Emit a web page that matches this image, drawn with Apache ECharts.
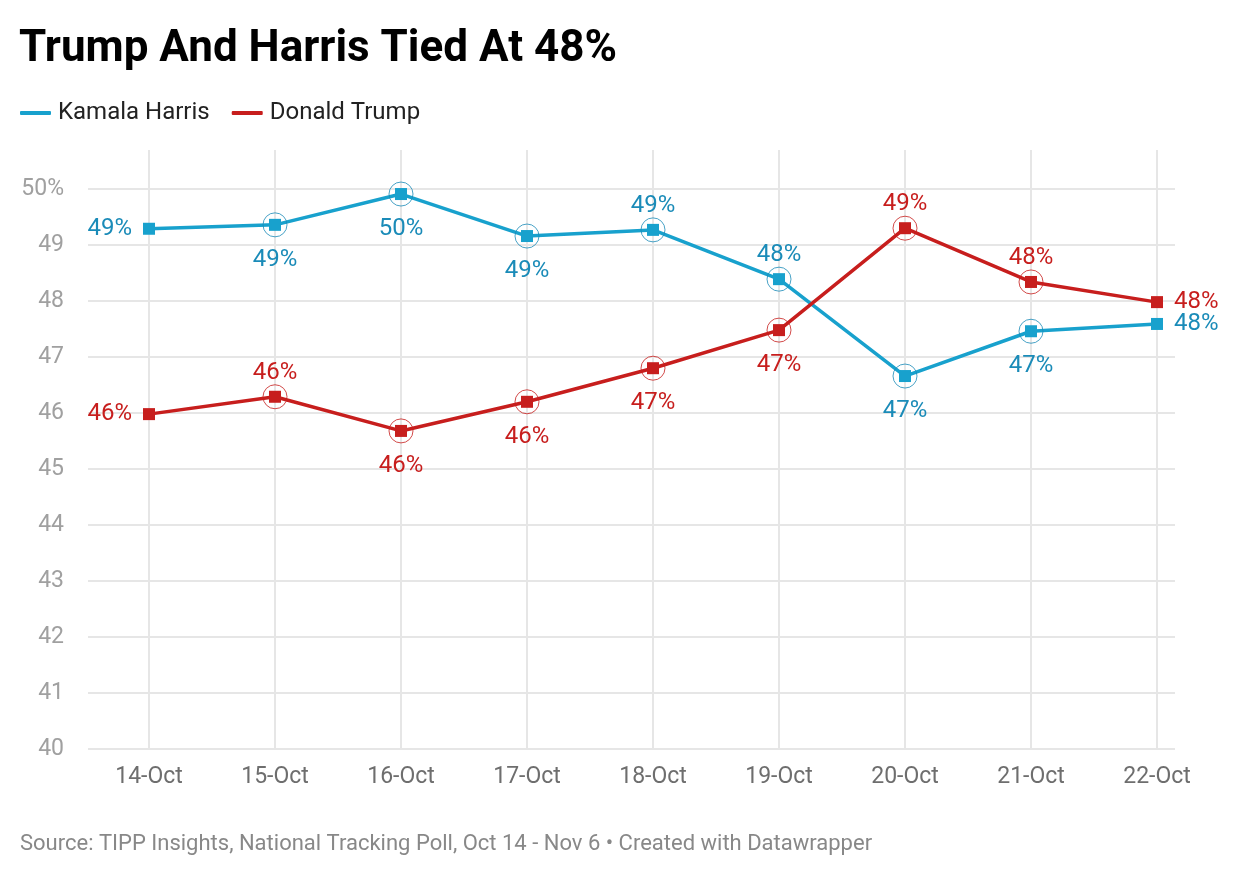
<!DOCTYPE html>
<html>
<head>
<meta charset="utf-8">
<script src="https://cdn.jsdelivr.net/npm/echarts@6/dist/echarts.min.js"></script>
<style>
html,body{margin:0;padding:0;background:#fff;}
#chart{width:1240px;height:876px;}
</style>
</head>
<body>
<div id="chart"></div>
<script>
const categories = ['14-Oct','15-Oct','16-Oct','17-Oct','18-Oct','19-Oct','20-Oct','21-Oct','22-Oct'];
const harris = [49.29, 49.36, 49.91, 49.16, 49.27, 48.39, 46.66, 47.46, 47.59];
const trump  = [45.98, 46.29, 45.68, 46.20, 46.80, 47.48, 49.30, 48.34, 47.98];
const harrisLabelPos = ['left','bottom','bottom','bottom','top','top','bottom','bottom','right'];
const trumpLabelPos  = ['left','top','bottom','bottom','bottom','bottom','top','top','right'];
const yMin = 40, yMax = 50, yStep = 1;

const BLUE = '#18a1cd', BLUE_TXT = '#1a8bb8', RED = '#c71e1d';
const FONT = 'Roboto, "Noto Sans", sans-serif';

function labelled(values, positions) {
  return values.map((v, i) => ({
    value: v,
    label: {
      position: positions[i],
      distance: positions[i] === 'top' ? 6 : positions[i] === 'bottom' ? 17 : 11
    }
  }));
}
function ringData(values) {
  return values.map((v, i) => (i === 0 || i === values.length - 1) ? '-' : v);
}

const chart = echarts.init(document.getElementById('chart'), null, {renderer: 'canvas'});
// grid 1 extends above the top gridline so that vertical lines reach higher
const topExtra = 39 / 56;

chart.setOption({
  backgroundColor: '#fff',
  animation: false,
  textStyle: {fontFamily: FONT},
  title: {
    text: 'Trump And Harris Tied At 48%',
    left: 19, top: 28, padding: 0,
    textStyle: {fontFamily: FONT, fontWeight: 'bold', fontSize: 44, color: '#000'}
  },
  legend: {
    left: 20, top: 101, padding: 0,
    data: ['Kamala Harris', 'Donald Trump'],
    icon: 'roundRect',
    itemWidth: 31, itemHeight: 4, itemGap: 22,
    textStyle: {fontFamily: FONT, fontSize: 24, color: '#222', padding: [0,0,0,2]}
  },
  grid: [
    {left: 88, right: 65, top: 189, bottom: 127},
    {left: 149, right: 83, top: 150, bottom: 127}
  ],
  xAxis: [
    {type: 'value', gridIndex: 0, show: false, min: 0, max: 1},
    {
      type: 'category', gridIndex: 1, data: categories, boundaryGap: false,
      axisLine: {show: false}, axisTick: {show: false},
      axisLabel: {fontFamily: FONT, fontSize: 23, color: '#6e6e6e', margin: 17},
      splitLine: {show: true, lineStyle: {color: '#e6e6e6', width: 2}}
    }
  ],
  yAxis: [
    {
      type: 'value', gridIndex: 0, min: yMin, max: yMax, interval: yStep,
      axisLine: {show: false}, axisTick: {show: false},
      axisLabel: {
        fontFamily: FONT, fontSize: 23, color: '#a0a0a0', margin: 24,
        padding: [4, 0, 0, 0],
        formatter: v => v === yMax ? v + '%' : String(v)
      },
      splitLine: {show: true, lineStyle: {color: '#e6e6e6', width: 2}}
    },
    {type: 'value', gridIndex: 1, show: false, min: yMin, max: yMax + topExtra}
  ],
  series: [
    {
      name: 'Kamala Harris', type: 'line', xAxisIndex: 1, yAxisIndex: 1,
      data: labelled(harris, harrisLabelPos),
      symbol: 'rect', symbolSize: 12,
      lineStyle: {color: BLUE, width: 3.5}, itemStyle: {color: BLUE},
      label: {show: true, fontFamily: FONT, fontSize: 24, color: BLUE_TXT,
        formatter: p => Math.round(p.value) + '%'},
      z: 3
    },
    {
      name: 'Donald Trump', type: 'line', xAxisIndex: 1, yAxisIndex: 1,
      data: labelled(trump, trumpLabelPos),
      symbol: 'rect', symbolSize: 12,
      lineStyle: {color: RED, width: 3.5}, itemStyle: {color: RED},
      label: {show: true, fontFamily: FONT, fontSize: 24, color: RED,
        formatter: p => Math.round(p.value) + '%'},
      z: 3
    },
    {
      name: 'harris-ring', type: 'scatter', xAxisIndex: 1, yAxisIndex: 1,
      data: ringData(harris), symbol: 'circle', symbolSize: 24,
      itemStyle: {color: 'rgba(0,0,0,0)', borderColor: BLUE_TXT, borderWidth: 1},
      silent: true, z: 4
    },
    {
      name: 'trump-ring', type: 'scatter', xAxisIndex: 1, yAxisIndex: 1,
      data: ringData(trump), symbol: 'circle', symbolSize: 24,
      itemStyle: {color: 'rgba(0,0,0,0)', borderColor: RED, borderWidth: 1},
      silent: true, z: 4
    }
  ],
  graphic: [{
    type: 'text', left: 20, top: 833,
    style: {
      text: 'Source: TIPP Insights, National Tracking Poll, Oct 14 - Nov 6 \u2022 Created with Datawrapper',
      fontFamily: FONT, fontSize: 22, fill: '#888'
    }
  }]
});
</script>
</body>
</html>
